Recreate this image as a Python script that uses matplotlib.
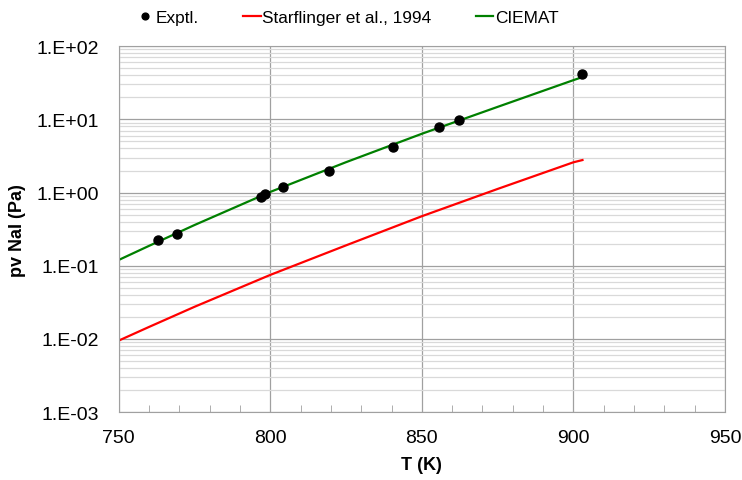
import numpy as np
import matplotlib.pyplot as plt
from matplotlib.ticker import FixedLocator, LogLocator, NullFormatter, FuncFormatter

plt.rcParams['font.family'] = ['Liberation Sans', 'DejaVu Sans']

# experimental points
exp_T = [762.9, 769.2, 797.0, 798.3, 804.1, 819.3, 840.6, 855.7, 862.4, 903.0]
exp_p = [0.225, 0.27, 0.88, 0.95, 1.2, 1.95, 4.2, 7.9, 9.9, 41.5]

# Starflinger et al., 1994
star_T = [750, 760, 775, 800, 825, 850, 875, 900, 903]
star_p = [0.0095, 0.0146, 0.0275, 0.075, 0.19, 0.475, 1.12, 2.59, 2.78]

# CIEMAT
ciem_T = [750, 760, 775, 800, 825, 850, 875, 900, 903]
ciem_p = [0.12, 0.187, 0.36, 1.02, 2.6, 6.35, 14.8, 34.3, 37.8]

fig = plt.figure(figsize=(7.42, 4.81), dpi=100)
ax = fig.add_axes([0.160, 0.141, 0.817, 0.761])

ax.set_yscale('log')
ax.set_xlim(750, 950)
ax.set_ylim(1e-3, 1e2)

ax.yaxis.set_minor_locator(LogLocator(base=10, subs=np.arange(2, 10)))
ax.yaxis.set_minor_formatter(NullFormatter())
ax.yaxis.set_major_formatter(FuncFormatter(lambda v, p: '1.E%+03d' % round(np.log10(v))))
ax.xaxis.set_major_locator(FixedLocator([750, 800, 850, 900, 950]))
ax.xaxis.set_minor_locator(FixedLocator(np.arange(760, 950, 10)))

ax.grid(True, which='major', axis='y', color='#a0a0a0', lw=0.9)
ax.grid(True, which='minor', axis='y', color='#d9d9d9', lw=0.9)
ax.grid(True, which='major', axis='x', color='#a0a0a0', lw=0.9)
ax.set_axisbelow(True)

ax.tick_params(axis='y', which='both', length=0, labelsize=14, pad=14)
ax.tick_params(axis='x', which='major', length=0, labelsize=14, pad=12)
ax.tick_params(axis='x', which='minor', direction='in', length=5, color='#a0a0a0')
for s in ax.spines.values():
    s.set_color('#a0a0a0')

ax.plot(star_T, star_p, color='#ff0000', lw=1.6, label='Starflinger et al., 1994')
ax.plot(ciem_T, ciem_p, color='#008000', lw=1.6, label='CIEMAT')
ax.plot(exp_T, exp_p, 'o', color='black', ms=6.5, label='Exptl.', zorder=5)

ax.set_xlabel('T (K)', fontsize=13, fontweight='bold', labelpad=7)
ax.set_ylabel('pv NaI (Pa)', fontsize=13, fontweight='bold', labelpad=8)

h, l = ax.get_legend_handles_labels()
fig.legend([h[2], h[0], h[1]], [l[2], l[0], l[1]], loc='upper left',
           bbox_to_anchor=(0.163, 1.01), ncol=3, frameon=False, fontsize=12.4,
           handlelength=1.0, handletextpad=0.1, columnspacing=2.6, markerscale=0.75)

fig.savefig('out.png', dpi=100)
